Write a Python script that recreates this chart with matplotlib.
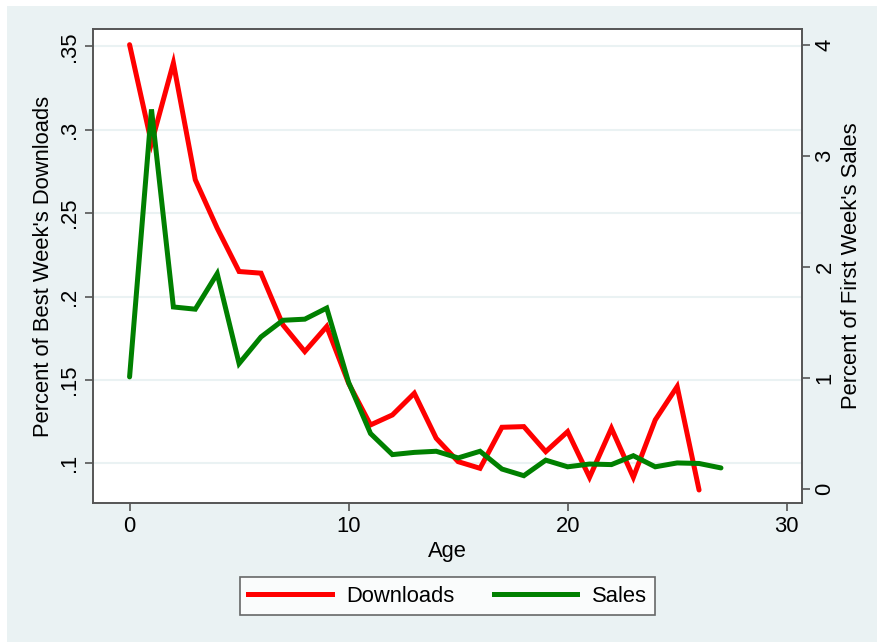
import matplotlib
matplotlib.use("Agg")
import matplotlib.pyplot as plt
from matplotlib.patches import Rectangle
from matplotlib.lines import Line2D

plt.rcParams['font.family'] = ['Liberation Sans', 'DejaVu Sans']

age_dl = list(range(0, 27))
downloads = [0.351, 0.292, 0.340, 0.270, 0.241, 0.215, 0.214, 0.183, 0.167, 0.182,
             0.148, 0.123, 0.129, 0.142, 0.115, 0.101, 0.097, 0.1216, 0.122, 0.107,
             0.119, 0.0916, 0.121, 0.0916, 0.126, 0.146, 0.084]
age_sales = list(range(0, 28))
sales = [1.01, 3.42, 1.64, 1.62, 1.94, 1.13, 1.37, 1.52, 1.53, 1.63,
         0.96, 0.50, 0.31, 0.33, 0.34, 0.28, 0.34, 0.18, 0.12, 0.26,
         0.20, 0.225, 0.22, 0.30, 0.20, 0.235, 0.23, 0.19]

left_ticks = [0.1, 0.15, 0.2, 0.25, 0.3, 0.35]
left_labels = ['.1', '.15', '.2', '.25', '.3', '.35']
right_ticks = [0, 1, 2, 3, 4]
x_ticks = [0, 10, 20, 30]

BG = '#EAF2F3'
W, H = 878, 642
fig = plt.figure(figsize=(W / 100, H / 100), dpi=100)
fig.patch.set_facecolor('white')
fig.patches.append(Rectangle((7 / W, 0), (W - 7) / W, (H - 6) / H,
                             transform=fig.transFigure, facecolor=BG,
                             edgecolor='none', zorder=-10))

l, r, b, t = 93, 802, 503, 29
ax = fig.add_axes([l / W, (H - b) / H, (r - l) / W, (b - t) / H])
ax.set_facecolor('white')
ax2 = ax.twinx()

fs = 15.8
ax.plot(age_dl, downloads, color='#FF0000', lw=3.6, solid_capstyle='round',
        solid_joinstyle='miter', zorder=3)
ax2.plot(age_sales, sales, color='#008000', lw=3.6, solid_capstyle='round',
         solid_joinstyle='miter', zorder=3)

ax.set_xlim(-1.67, 30.7)
ax.set_ylim(0.0762, 0.3604)
ax2.set_ylim(-0.126, 4.144)

ax.set_yticks(left_ticks)
ax.set_yticklabels(left_labels, rotation=90, va='center', fontsize=fs)
ax2.set_yticks(right_ticks)
ax2.set_yticklabels([str(v) for v in right_ticks], rotation=90, va='center', fontsize=fs)
ax.set_xticks(x_ticks)
ax.set_xticklabels([str(v) for v in x_ticks], fontsize=fs)

ax.grid(axis='y', color=BG, lw=1.5, zorder=0)
ax.set_axisbelow(True)
for a in (ax, ax2):
    for s in a.spines.values():
        s.set_color('#555555')
        s.set_linewidth(1.2)
    a.tick_params(length=6, width=1.2, color='#555555', labelcolor='black', pad=3)

ax.set_xlabel('Age', fontsize=fs, labelpad=3)
ax.set_ylabel("Percent of Best Week's Downloads", fontsize=fs, labelpad=4)
ax2.set_ylabel("Percent of First Week's Sales", fontsize=fs, labelpad=4)

handles = [Line2D([], [], color='#FF0000', lw=3.6),
           Line2D([], [], color='#008000', lw=3.6)]
leg = fig.legend(handles, ['Downloads', 'Sales'], loc='center',
                 bbox_to_anchor=(447.5 / W, 1 - 596 / H), ncol=2, fontsize=fs,
                 frameon=True, fancybox=False, handlelength=3.8, columnspacing=1.8,
                 handletextpad=0.65, borderpad=0.4)
leg.get_frame().set_edgecolor('#444444')
leg.get_frame().set_linewidth(1.2)

fig.savefig('out.png', dpi=100, facecolor=fig.get_facecolor())
